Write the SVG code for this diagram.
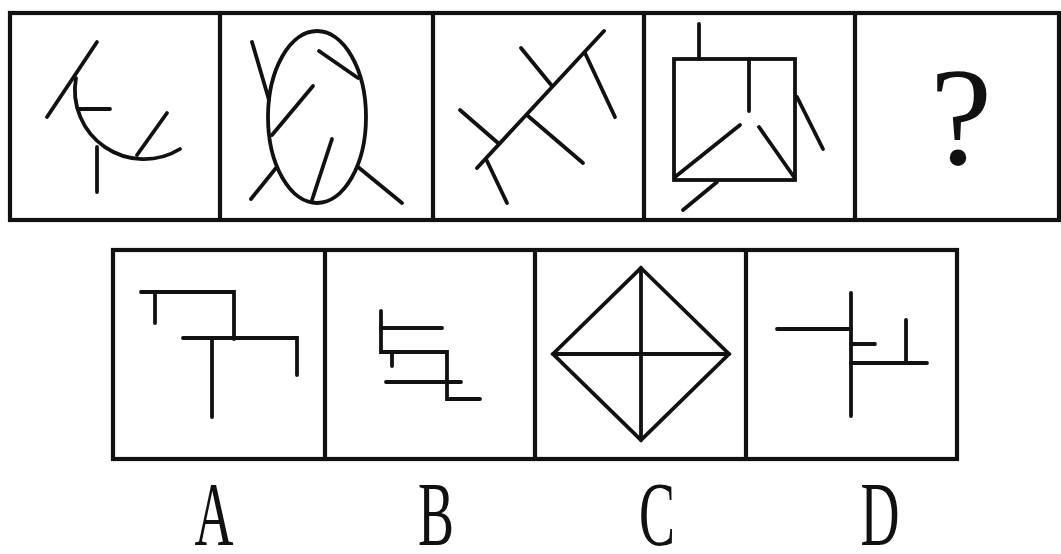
<svg xmlns="http://www.w3.org/2000/svg" width="1061" height="554" viewBox="0 0 1061 554">
<style>
.frame{fill:none;stroke:#111;stroke-width:4.2}
.ln{fill:none;stroke:#111;stroke-width:3.8;stroke-linecap:round;stroke-linejoin:miter}
.lbl{font-family:"Liberation Serif","Times New Roman",Tinos,serif;fill:#111}
</style>
<rect width="1061" height="554" fill="#fff"/>
<g id="top-row">
<rect class="frame" x="10" y="13" width="1049" height="207"/>
<line class="frame" x1="220" y1="13" x2="220" y2="220"/>
<line class="frame" x1="433" y1="13" x2="433" y2="220"/>
<line class="frame" x1="644" y1="13" x2="644" y2="220"/>
<line class="frame" x1="855" y1="13" x2="855" y2="220"/>
</g>
<g id="fig1">
<path class="ln" d="M76,78 A69,69 0 0 0 180,149"/>
<line class="ln" x1="47" y1="117" x2="97" y2="42"/>
<line class="ln" x1="79" y1="109" x2="110" y2="109"/>
<line class="ln" x1="97" y1="147" x2="97" y2="192"/>
<line class="ln" x1="137" y1="155" x2="167" y2="113"/>
</g>
<g id="fig2">
<ellipse class="ln" cx="317" cy="117" rx="49" ry="86"/>
<line class="ln" x1="252" y1="42" x2="269" y2="100"/>
<line class="ln" x1="319" y1="51" x2="358" y2="78"/>
<line class="ln" x1="272" y1="135" x2="313" y2="86"/>
<line class="ln" x1="312" y1="200" x2="332" y2="139"/>
<line class="ln" x1="251" y1="199" x2="276" y2="168"/>
<line class="ln" x1="358" y1="167" x2="402" y2="203"/>
</g>
<g id="fig3">
<line class="ln" x1="477" y1="168" x2="604" y2="31"/>
<line class="ln" x1="460" y1="110" x2="498" y2="143"/>
<line class="ln" x1="521" y1="48" x2="552" y2="86"/>
<line class="ln" x1="528" y1="116" x2="583" y2="163"/>
<line class="ln" x1="585" y1="53" x2="615" y2="117"/>
<line class="ln" x1="487" y1="161" x2="507" y2="203"/>
</g>
<g id="fig4">
<rect class="ln" x="674" y="59" width="121" height="121"/>
<line class="ln" x1="699" y1="24" x2="699" y2="59"/>
<line class="ln" x1="749" y1="59" x2="749" y2="111"/>
<line class="ln" x1="675" y1="177" x2="740" y2="125"/>
<line class="ln" x1="759" y1="127" x2="794" y2="177"/>
<line class="ln" x1="797" y1="97" x2="823" y2="149"/>
<line class="ln" x1="717" y1="182" x2="683" y2="210"/>
</g>
<g id="fig5">
<text class="lbl" x="961" y="164" font-size="140" text-anchor="middle">?</text>
</g>
<g id="bottom-row">
<rect class="frame" x="113" y="250" width="844" height="209"/>
<line class="frame" x1="325" y1="250" x2="325" y2="459"/>
<line class="frame" x1="535" y1="250" x2="535" y2="459"/>
<line class="frame" x1="746" y1="250" x2="746" y2="459"/>
</g>
<g id="optA">
<polyline class="ln" points="141,292 234,292 234,339"/>
<line class="ln" x1="155" y1="292" x2="155" y2="323"/>
<polyline class="ln" points="183,338 297,338 297,375"/>
<line class="ln" x1="212" y1="338" x2="212" y2="417"/>
</g>
<g id="optB">
<polyline class="ln" points="381,311 381,352 447,352 447,399 480,399"/>
<line class="ln" x1="381" y1="328" x2="442" y2="328"/>
<line class="ln" x1="392" y1="352" x2="392" y2="366"/>
<line class="ln" x1="386" y1="382" x2="461" y2="382"/>
</g>
<g id="optC">
<polygon class="ln" points="641,268 729,354 641,440 553,354"/>
<line class="ln" x1="641" y1="268" x2="641" y2="440"/>
<line class="ln" x1="553" y1="354" x2="729" y2="354"/>
</g>
<g id="optD">
<line class="ln" x1="851" y1="293" x2="851" y2="416"/>
<line class="ln" x1="777" y1="329" x2="851" y2="329"/>
<line class="ln" x1="851" y1="344" x2="875" y2="344"/>
<line class="ln" x1="851" y1="363" x2="927" y2="363"/>
<line class="ln" x1="906" y1="320" x2="906" y2="363"/>
</g>
<g id="labels">
<text class="lbl" font-size="90" text-anchor="middle" transform="translate(214,545) scale(0.6,1)">A</text>
<text class="lbl" font-size="90" text-anchor="middle" transform="translate(436,545) scale(0.6,1)">B</text>
<text class="lbl" font-size="90" text-anchor="middle" transform="translate(657,545) scale(0.6,1)">C</text>
<text class="lbl" font-size="90" text-anchor="middle" transform="translate(880,545) scale(0.6,1)">D</text>
</g>
</svg>
